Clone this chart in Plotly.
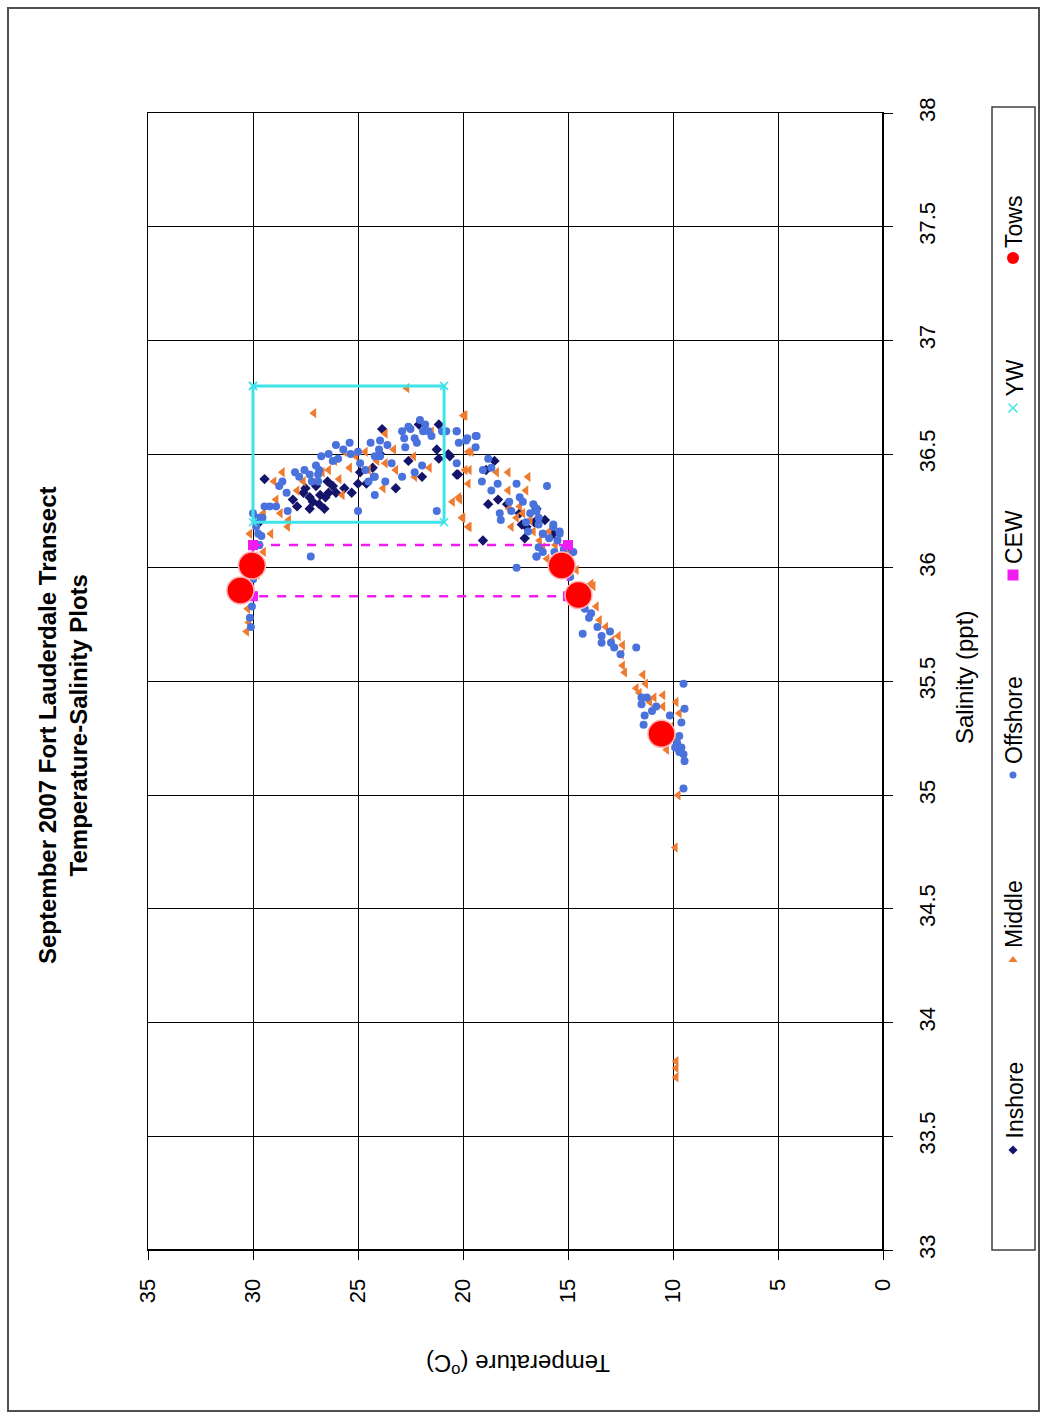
import plotly.graph_objects as go

W, H = 1041, 1418

# ---- data: temperature (deg C) and salinity (ppt) per station group ----
inshore_t = [29.45, 28.1, 27.5, 27.3, 27.0, 26.8, 26.45, 26.4, 27.15, 27.3, 26.85, 26.55,
             26.05, 25.65, 25.0, 24.6, 24.3, 23.95, 23.85, 23.2, 22.6, 22.1, 21.95, 21.15,
             21.25, 21.15, 20.7, 20.3, 29.7, 20.63, 20.24, 18.5, 18.9, 18.8, 18.33, 17.9,
             17.3, 17.2, 16.98, 17.06, 16.5, 16.1, 19.05, 15.7, 27.6, 26.2, 25.3, 27.9,
             26.6, 24.9, 16.6]
inshore_s = [36.39, 36.30, 36.35, 36.31, 36.36, 36.32, 36.38, 36.33, 36.29, 36.26, 36.28, 36.31,
             36.33, 36.35, 36.37, 36.37, 36.44, 36.50, 36.61, 36.35, 36.47, 36.63, 36.40, 36.63,
             36.52, 36.48, 36.50, 36.41, 36.20, 36.49, 36.41, 36.47, 36.43, 36.28, 36.30, 36.28,
             36.24, 36.19, 36.18, 36.13, 36.26, 36.21, 36.12, 36.15, 36.33, 36.36, 36.33, 36.27,
             36.26, 36.42, 36.20]

middle_t = [22.67, 27.1, 28.6, 29.0, 27.6, 26.4, 25.9, 25.75, 25.65, 25.1, 24.65, 23.7,
            24.5, 23.7, 23.2, 23.8, 22.35, 22.3, 21.6, 21.5, 19.98, 19.75, 19.9, 20.2,
            20.05, 19.75, 29.15, 28.3, 28.7, 29.5, 30.15, 29.5, 28.35, 26.7,
            19.9, 19.6, 19.7, 19.75, 20.15, 20.5, 20.0, 19.7, 18.4, 17.85, 16.9, 17.0,
            17.85, 17.8, 17.45, 17.15, 17.7, 16.65, 15.9, 16.35, 16.0, 14.85, 13.9, 14.6,
            13.8, 13.65, 13.5, 12.6, 12.4, 12.45, 12.4, 12.3, 11.43, 11.75, 11.6, 10.48,
            11.1, 9.85, 10.48, 9.7, 9.85, 10.3, 9.75, 9.89, 9.85, 9.85, 9.85,
            30.3, 30.2, 30.25, 29.8, 29.9, 30.0,
            26.1, 25.4, 24.1, 23.3, 27.9, 28.9, 17.3, 16.8, 16.2, 15.6, 14.3, 13.2,
            12.9, 11.3, 10.9, 10.1]
middle_s = [36.79, 36.68, 36.42, 36.38, 36.38, 36.43, 36.39, 36.32, 36.51, 36.49, 36.51, 36.59,
            36.43, 36.46, 36.43, 36.35, 36.49, 36.40, 36.44, 36.60, 36.67, 36.51, 36.43, 36.31,
            36.22, 36.18, 36.15, 36.21, 36.24, 36.24, 36.15, 36.07, 36.18, 36.42,
            36.67, 36.51, 36.43, 36.37, 36.30, 36.29, 36.22, 36.18, 36.42, 36.42, 36.40, 36.34,
            36.34, 36.26, 36.22, 36.24, 36.18, 36.16, 36.16, 36.12, 36.04, 36.07, 35.93, 35.99,
            35.92, 35.83, 35.77, 35.70, 35.66, 35.62, 35.57, 35.54, 35.53, 35.47, 35.45, 35.44,
            35.41, 35.41, 35.39, 35.36, 35.24, 35.20, 35.00, 34.77, 33.83, 33.80, 33.76,
            35.72, 35.76, 35.82, 35.97, 36.05, 36.00,
            36.47, 36.44, 36.47, 36.52, 36.34, 36.30, 36.27, 36.21, 36.09, 36.10, 35.86, 35.74,
            35.68, 35.49, 35.43, 35.30]

offshore_t = [30.0, 29.75, 29.45, 29.2, 28.9, 28.75, 28.4, 28.35, 28.0, 27.55, 27.3, 26.85,
              27.2, 26.9, 26.75, 26.4, 26.05, 25.95, 25.4, 25.35, 25.0, 24.9, 24.65, 24.4,
              24.25, 24.2, 24.0, 23.95, 23.95, 24.2, 25.0, 27.25, 23.4, 22.9, 22.8, 22.5,
              22.3, 22.05, 21.8, 21.65, 21.5, 22.75, 22.9, 22.3, 21.95, 21.0, 20.8, 20.3,
              20.2, 19.8, 19.4, 21.25, 24.2, 23.7, 24.5, 29.75, 29.7, 26.9,
              20.3, 19.85, 19.35, 19.4, 20.3, 18.8, 18.65, 19.05, 19.1, 18.35, 17.45, 18.65,
              17.8, 17.3, 17.15, 16.65, 17.7, 18.25, 18.2, 16.8, 16.5, 16.4, 16.0, 15.7,
              16.2, 15.9, 15.4, 16.4, 16.2, 16.5, 17.45, 15.65,
              16.5, 16.4, 15.7, 15.4, 16.2, 16.5, 14.75, 14.2, 13.9, 14.3, 13.4, 13.4,
              13.0, 12.95, 12.8, 11.75, 11.5, 11.25, 11.5, 10.8, 11.35, 11.4, 9.6, 9.45,
              9.5, 9.9, 9.6, 9.5, 9.45, 9.7, 9.5, 10.15,
              30.1, 30.15, 30.05, 29.9, 29.7, 29.6, 30.0,
              28.6, 27.8, 27.0, 26.2, 25.7, 23.6, 22.6, 21.9, 22.2, 17.0, 16.9, 15.5,
              15.2, 14.9, 14.0, 13.6, 12.5, 11.0, 10.6, 9.8, 9.7, 29.85, 29.55]
offshore_s = [36.24, 36.22, 36.27, 36.27, 36.27, 36.36, 36.33, 36.25, 36.42, 36.43, 36.41, 36.43,
              36.38, 36.38, 36.49, 36.50, 36.54, 36.48, 36.55, 36.50, 36.51, 36.46, 36.43, 36.55,
              36.40, 36.49, 36.52, 36.49, 36.56, 36.32, 36.25, 36.05, 36.46, 36.60, 36.57, 36.61,
              36.57, 36.65, 36.63, 36.60, 36.58, 36.53, 36.40, 36.42, 36.45, 36.60, 36.60, 36.60,
              36.55, 36.57, 36.58, 36.25, 36.40, 36.38, 36.38, 36.15, 36.10, 36.41,
              36.60, 36.56, 36.58, 36.53, 36.46, 36.48, 36.44, 36.43, 36.38, 36.37, 36.37, 36.34,
              36.29, 36.31, 36.29, 36.28, 36.25, 36.24, 36.21, 36.24, 36.25, 36.19, 36.36, 36.19,
              36.15, 36.13, 36.16, 36.09, 36.07, 36.05, 36.00, 36.07,
              36.26, 36.22, 36.18, 36.15, 36.15, 36.05, 36.07, 35.82, 35.80, 35.71, 35.70, 35.67,
              35.72, 35.67, 35.65, 35.65, 35.43, 35.43, 35.40, 35.39, 35.35, 35.31, 35.32, 35.38,
              35.49, 35.21, 35.21, 35.18, 35.15, 35.26, 35.03, 35.35,
              35.74, 35.78, 35.83, 36.04, 36.10, 36.14, 35.95,
              36.38, 36.40, 36.45, 36.47, 36.52, 36.54, 36.62, 36.60, 36.55, 36.20, 36.16, 36.12,
              36.08, 35.96, 35.78, 35.74, 35.62, 35.37, 35.30, 35.23, 35.19, 36.18, 36.22]

# water-mass boxes
cew_t = [30, 15, 15, 30, 30]
cew_s = [36.1, 36.1, 35.875, 35.875, 36.1]
yw_t = [30, 20.9, 20.9, 30, 30]
yw_s = [36.8, 36.8, 36.2, 36.2, 36.8]

# net tow stations
tows_t = [30.6, 30.05, 15.3, 14.5, 10.55]
tows_s = [35.90, 36.01, 36.01, 35.88, 35.27]

temp_ticks = [0, 5, 10, 15, 20, 25, 30, 35]
sal_ticks = [33, 33.5, 34, 34.5, 35, 35.5, 36, 36.5, 37, 37.5, 38]

series_names = ["Inshore", "Middle", "Offshore", "CEW", "YW", "Tows"]

# ---- styling ----
FONT = "Liberation Sans, Arial, sans-serif"
C_IN, C_MID, C_OFF = "#14146b", "#ee7b30", "#4a72dc"
C_CEW, C_YW, C_TOW = "#f01cf0", "#3fe3e8", "#ff0000"

# plot area in pixels
PX0, PX1, PY0, PY1 = 148, 883, 113, 1250


def fx(px):
    return px / W


def fy(py):
    return 1 - py / H


fig = go.Figure()

fig.add_trace(go.Scatter(x=inshore_t, y=inshore_s, mode="markers", name=series_names[0],
                         marker=dict(symbol="diamond", size=8, color=C_IN)))
fig.add_trace(go.Scatter(x=middle_t, y=middle_s, mode="markers", name=series_names[1],
                         marker=dict(symbol="triangle-left", size=9, color=C_MID)))
fig.add_trace(go.Scatter(x=offshore_t, y=offshore_s, mode="markers", name=series_names[2],
                         marker=dict(symbol="circle", size=8, color=C_OFF)))
fig.add_trace(go.Scatter(x=cew_t, y=cew_s, mode="lines+markers", name=series_names[3],
                         line=dict(color=C_CEW, width=2.5, dash="dash"),
                         marker=dict(symbol="square", size=10, color=C_CEW)))
fig.add_trace(go.Scatter(x=yw_t, y=yw_s, mode="lines+markers", name=series_names[4],
                         line=dict(color=C_YW, width=3),
                         marker=dict(symbol="x-thin", size=8, color=C_YW,
                                     line=dict(color=C_YW, width=1.5))))
fig.add_trace(go.Scatter(x=tows_t, y=tows_s, mode="markers", name=series_names[5],
                         marker=dict(symbol="circle", size=27, color=C_TOW,
                                     line=dict(color="#ffb4b4", width=1.5))))

# legend keys drawn on a full-page overlay axis (pixel units)
leg_sym_y = [1150, 960, 775, 575, 408, 258]
leg_txt_bottom = [1141, 950, 766, 566, 399, 250]
leg_x = 1013
leg_markers = [
    dict(symbol="diamond", size=7, color=C_IN),
    dict(symbol="triangle-up", size=8, color=C_MID),
    dict(symbol="circle", size=7, color=C_OFF),
    dict(symbol="square", size=11, color=C_CEW),
    dict(symbol="x-thin", size=9, color=C_YW, line=dict(color=C_YW, width=1.5)),
    dict(symbol="circle", size=12, color=C_TOW),
]
for name, yy, mk in zip(series_names, leg_sym_y, leg_markers):
    fig.add_trace(go.Scatter(x=[leg_x], y=[yy], mode="markers", marker=mk,
                             xaxis="x2", yaxis="y2", showlegend=False, hoverinfo="skip"))

axis_common = dict(showgrid=True, gridcolor="black", gridwidth=1,
                   showline=True, linecolor="black", linewidth=1, mirror=True,
                   ticks="outside", ticklen=9, tickcolor="black", tickwidth=1,
                   tickfont=dict(family=FONT, size=22, color="black"),
                   zeroline=False, tickangle=-90, automargin=False)

fig.update_layout(
    width=W, height=H,
    margin=dict(l=0, r=0, t=0, b=0, pad=0, autoexpand=False),
    paper_bgcolor="white", plot_bgcolor="rgba(0,0,0,0)",
    showlegend=False,
    xaxis=dict(range=[35, 0], domain=[fx(PX0), fx(PX1)], tickvals=temp_ticks,
               anchor="y", ticklabelstandoff=10, **axis_common),
    yaxis=dict(range=[33, 38], domain=[fy(PY1), fy(PY0)], tickvals=sal_ticks,
               side="right", anchor="x", ticklabelstandoff=16, **axis_common),
    xaxis2=dict(range=[0, W], domain=[0, 1], visible=False, anchor="y2"),
    yaxis2=dict(range=[H, 0], domain=[0, 1], visible=False, anchor="x2"),
)

shapes = [
    # page frame
    dict(type="rect", xref="paper", yref="paper", x0=fx(8), x1=fx(1039), y0=fy(1411), y1=fy(8),
         line=dict(color="#505050", width=2)),
    # heavier primary axis lines
    dict(type="line", xref="paper", yref="paper", x0=fx(PX0), x1=fx(PX1), y0=fy(PY1), y1=fy(PY1),
         line=dict(color="black", width=2)),
    dict(type="line", xref="paper", yref="paper", x0=fx(PX1), x1=fx(PX1), y0=fy(PY1), y1=fy(PY0),
         line=dict(color="black", width=2)),
    # legend box
    dict(type="rect", xref="paper", yref="paper", x0=fx(992), x1=fx(1035), y0=fy(1250), y1=fy(107),
         line=dict(color="#404040", width=1.5)),
]
fig.update_layout(shapes=shapes)

annotations = [
    dict(text="<b>September 2007 Fort Lauderdale Transect<br>Temperature-Salinity Plots</b>",
         x=fx(63), y=fy(725), xref="paper", yref="paper", showarrow=False, textangle=-90,
         xanchor="center", yanchor="middle", font=dict(family=FONT, size=24, color="black")),
    dict(text="Salinity (ppt)", x=fx(965), y=fy(678), xref="paper", yref="paper",
         showarrow=False, textangle=-90, xanchor="center", yanchor="middle",
         font=dict(family=FONT, size=24, color="black")),
    dict(text="Temperature (<sup>o</sup>C)", x=fx(518), y=fy(1365), xref="paper", yref="paper",
         showarrow=False, textangle=180, xanchor="center", yanchor="middle",
         font=dict(family=FONT, size=24, color="black")),
]
for name, yb in zip(series_names, leg_txt_bottom):
    annotations.append(dict(text=name, x=fx(1014), y=fy(yb), xref="paper", yref="paper",
                            showarrow=False, textangle=-90, xanchor="center", yanchor="bottom",
                            font=dict(family=FONT, size=23, color="black")))
fig.update_layout(annotations=annotations)

fig.write_html("out.html")
